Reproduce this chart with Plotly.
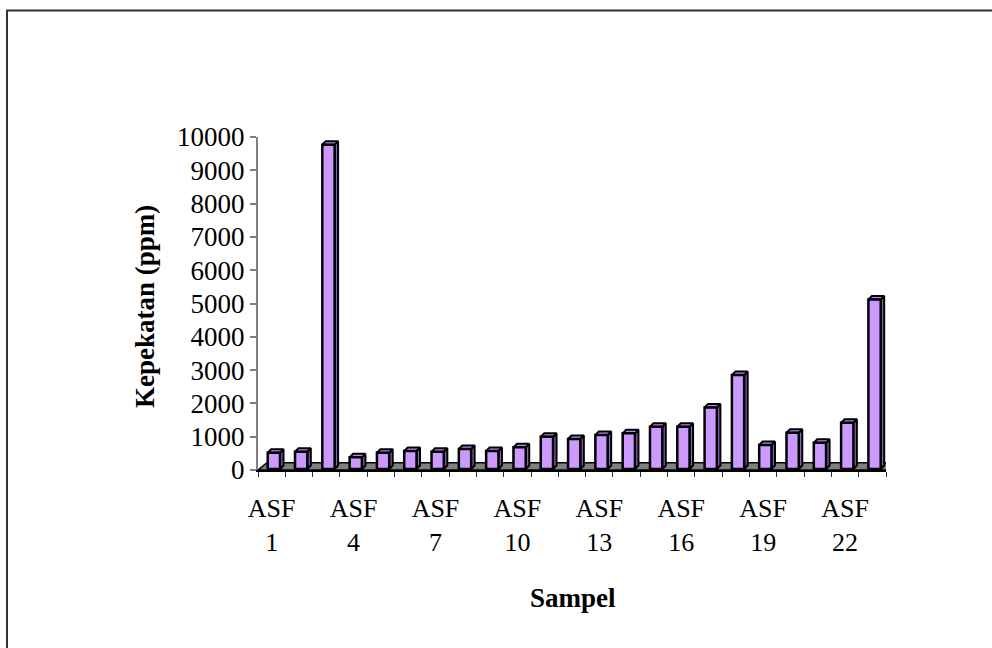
import plotly.graph_objects as go

# ---------------- data ----------------
categories = [f"ASF {i}" for i in range(1, 24)]
values = [520, 550, 9770, 380, 520, 570, 550, 630, 570, 680, 1000, 930,
          1050, 1100, 1300, 1300, 1880, 2850, 750, 1120, 820, 1420, 5120]
tick_positions = [0, 3, 6, 9, 12, 15, 18, 21]
tick_labels = ["ASF<br>1", "ASF<br>4", "ASF<br>7", "ASF<br>10",
               "ASF<br>13", "ASF<br>16", "ASF<br>19", "ASF<br>22"]
y_ticks = [0, 1000, 2000, 3000, 4000, 5000, 6000, 7000, 8000, 9000, 10000]
y_tick_labels = ["0", "1000", "2000", "3000", "4000", "5000", "6000",
                 "7000", "8000", "9000", "10000"]
y_title = "Kepekatan (ppm)"
x_title = "Sampel"

# ---------------- layout geometry (pixels) ----------------
W, H = 992, 648
L, R, T, B = 258, 886, 137, 470
n = len(categories)
YMAX = 10000
px_x = (R - L) / n
px_y = (B - T) / YMAX


def dx(p):
    return p / px_x


def dy(p):
    return p / px_y


FONT = "Liberation Serif, Times New Roman, serif"
FRONT = "#CC99FF"
SIDE = "#8A63BC"
TOP = "#B58CEB"

half = 0.225
shift = dx(2.2)
sx, sy = dx(3.5), dy(3.5)
base = dy(1)

fx, fy, sxs, sys_, tx, ty = [], [], [], [], [], []
for i, v in enumerate(values):
    x0 = i - half + shift
    x1 = i + half + shift
    fx += [x0, x1, x1, x0, x0, None]
    fy += [base, base, v, v, base, None]
    sxs += [x1, x1 + sx, x1 + sx, x1, x1, None]
    sys_ += [base, base + sy, v + sy, v, base, None]
    tx += [x0, x1, x1 + sx, x0 + sx, x0, None]
    ty += [v, v, v + sy, v + sy, v, None]

fdx, fdy = dx(9), dy(7.3)
floor_x = [-0.5, n - 0.5, n - 0.5 + fdx, -0.5 + fdx, -0.5]
floor_y = [0, 0, fdy, fdy, 0]

fig = go.Figure()
fig.add_trace(go.Scatter(x=floor_x, y=floor_y, mode="lines", fill="toself",
                         fillcolor="#808080", line=dict(color="#000000", width=1.5),
                         hoverinfo="skip", cliponaxis=False, showlegend=False))
fig.add_trace(go.Scatter(x=sxs, y=sys_, mode="lines", fill="toself",
                         fillcolor=SIDE, line=dict(color="#000000", width=2),
                         hoverinfo="skip", cliponaxis=False, showlegend=False))
fig.add_trace(go.Scatter(x=tx, y=ty, mode="lines", fill="toself",
                         fillcolor=TOP, line=dict(color="#000000", width=2),
                         hoverinfo="skip", cliponaxis=False, showlegend=False))
fig.add_trace(go.Scatter(x=fx, y=fy, mode="lines", fill="toself",
                         fillcolor=FRONT, line=dict(color="#000000", width=2.5),
                         hoverinfo="skip", cliponaxis=False, showlegend=False))

fig.update_layout(
    width=W, height=H,
    margin=dict(l=L, r=W - R, t=T, b=H - B, pad=0),
    paper_bgcolor="white", plot_bgcolor="white",
    font=dict(family=FONT, size=26, color="#000000"),
    showlegend=False,
    xaxis=dict(
        range=[-0.5, n - 0.5], showgrid=False, zeroline=False,
        tickmode="array", tickvals=tick_positions, ticktext=tick_labels,
        ticks="", showline=True, linecolor="#000000", linewidth=2,
        ticklabelstandoff=14,
        tickfont=dict(family=FONT, size=26, color="#000000"),
        minor=dict(tickmode="linear", tick0=-0.5, dtick=1, ticks="outside",
                   ticklen=5, tickwidth=1, tickcolor="#333333", showgrid=False),
    ),
    yaxis=dict(
        range=[0, YMAX], tickmode="array", tickvals=y_ticks, ticktext=y_tick_labels,
        ticks="outside", ticklen=6, tickwidth=1.5, tickcolor="#808080",
        showline=True, linecolor="#808080", linewidth=2,
        showgrid=False, zeroline=False,
        tickfont=dict(family=FONT, size=27, color="#000000"),
    ),
)


def px_to_paper_x(p):
    return (p - L) / (R - L)


def px_to_paper_y(p):
    return (B - p) / (B - T)


fig.add_annotation(text=f"<b>{y_title}</b>", textangle=-90, showarrow=False,
                   xref="paper", yref="paper",
                   x=px_to_paper_x(145), y=px_to_paper_y(307),
                   xanchor="center", yanchor="middle",
                   font=dict(family=FONT, size=27, color="#000000"))
fig.add_annotation(text=f"<b>{x_title}</b>", showarrow=False,
                   xref="paper", yref="paper",
                   x=px_to_paper_x(573), y=px_to_paper_y(598),
                   xanchor="center", yanchor="middle",
                   font=dict(family=FONT, size=27, color="#000000"))

fig.add_shape(type="rect", xref="paper", yref="paper",
              x0=px_to_paper_x(7), x1=px_to_paper_x(1010),
              y0=px_to_paper_y(670), y1=px_to_paper_y(10.5),
              line=dict(color="#333333", width=2), fillcolor="rgba(0,0,0,0)",
              layer="below")

fig.write_html("out.html")
